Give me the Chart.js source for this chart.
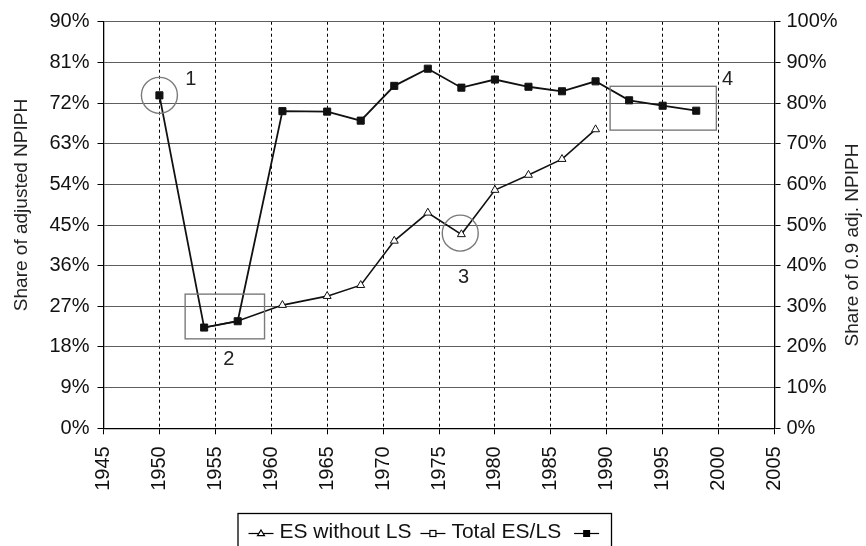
<!DOCTYPE html>
<html>
<head>
<meta charset="utf-8">
<script src="https://cdn.jsdelivr.net/npm/chart.js@4.4.1/dist/chart.umd.min.js"></script>
<style>
  html, body { margin: 0; padding: 0; background: #fff; }
  #wrap { position: relative; width: 866px; height: 546px; }
</style>
</head>
<body>
<div id="wrap"><canvas id="chart"></canvas></div>
<script>
// Data
const xTicks = [1945, 1950, 1955, 1960, 1965, 1970, 1975, 1980, 1985, 1990, 1995, 2000, 2005];

// ES without LS (right axis, share of 0.9 adj. NPIPH)
const esYears = [1954, 1957, 1961, 1965, 1968, 1971, 1974, 1977, 1980, 1983, 1986, 1989];
const esValues = [24.8, 26.4, 30.3, 32.5, 35.2, 46.1, 53.0, 47.7, 58.6, 62.3, 66.2, 73.5];

// Total ES/LS (left axis, share of adjusted NPIPH)
const totalYears = [1950, 1954, 1957, 1961, 1965, 1968, 1971, 1974, 1977, 1980, 1983, 1986, 1989, 1992, 1995, 1998];
const totalValues = [73.7, 22.3, 23.7, 70.2, 70.1, 68.1, 75.8, 79.6, 75.4, 77.2, 75.6, 74.6, 76.8, 72.6, 71.4, 70.3];

const legendLabels = ['ES without LS', 'Total ES/LS', ''];

// Annotation marks, in data units of the left axis
const circleNotes = [
    { x: 1950, y: 73.7 },
    { x: 1976.9, y: 43.2 }
];
const boxNotes = [
    { x1: 1952.3, x2: 1959.4, y1: 19.8, y2: 29.7 },
    { x1: 1990.3, x2: 1999.8, y1: 66.0, y2: 75.7 }
];
const numberNotes = [
    { text: '1', x: 1952.8, y: 77.1 },
    { text: '2', x: 1956.2, y: 15.3 },
    { text: '3', x: 1977.2, y: 33.3 },
    { text: '4', x: 2000.8, y: 77.1 }
];

const FONT = '"Liberation Sans", Arial, Helvetica, sans-serif';

function toPoints(xs, ys) {
    return xs.map((x, i) => ({ x: x, y: ys[i] }));
}

// Annotations, axis titles and the boxed legend
const extrasPlugin = {
    id: 'extras',
    afterDraw(chart) {
        const ctx = chart.ctx;
        const sx = chart.scales.x;
        const sy = chart.scales.y;

        ctx.save();
        ctx.strokeStyle = '#7a7a7a';
        ctx.lineWidth = 1.4;
        circleNotes.forEach(c => {
            ctx.beginPath();
            ctx.arc(sx.getPixelForValue(c.x), sy.getPixelForValue(c.y), 18, 0, Math.PI * 2);
            ctx.stroke();
        });
        boxNotes.forEach(b => {
            const x1 = sx.getPixelForValue(b.x1), x2 = sx.getPixelForValue(b.x2);
            const y1 = sy.getPixelForValue(b.y1), y2 = sy.getPixelForValue(b.y2);
            ctx.strokeRect(x1, y2, x2 - x1, y1 - y2);
        });

        ctx.fillStyle = '#222';
        ctx.font = '20px ' + FONT;
        ctx.textAlign = 'center';
        ctx.textBaseline = 'middle';
        numberNotes.forEach(n => {
            ctx.fillText(n.text, sx.getPixelForValue(n.x), sy.getPixelForValue(n.y));
        });

        // axis titles, both reading bottom to top
        ctx.font = '19px ' + FONT;
        ctx.save();
        ctx.translate(22, 205);
        ctx.rotate(-Math.PI / 2);
        ctx.fillText('Share of adjusted NPIPH', 0, 0);
        ctx.restore();
        ctx.save();
        ctx.translate(853, 245);
        ctx.rotate(-Math.PI / 2);
        ctx.fillText('Share of 0.9 adj. NPIPH', 0, 0);
        ctx.restore();

        // legend box
        ctx.strokeStyle = '#000';
        ctx.lineWidth = 1.3;
        ctx.strokeRect(238, 513.5, 373.5, 60);

        ctx.font = '21px ' + FONT;
        ctx.textAlign = 'left';
        ctx.fillStyle = '#111';
        const ly = 533.5;
        let lx = 248.5;
        legendLabels.forEach((label, i) => {
            const len = 25;
            ctx.strokeStyle = '#000';
            ctx.lineWidth = 1.2;
            ctx.beginPath();
            ctx.moveTo(lx, ly);
            ctx.lineTo(lx + len, ly);
            ctx.stroke();
            const mx = lx + len / 2;
            if (i === 0) {
                ctx.fillStyle = '#fff';
                ctx.beginPath();
                ctx.moveTo(mx, ly - 3.5);
                ctx.lineTo(mx + 3.5, ly + 2.2);
                ctx.lineTo(mx - 3.5, ly + 2.2);
                ctx.closePath();
                ctx.fill();
                ctx.stroke();
            } else if (i === 1) {
                ctx.fillStyle = '#fff';
                ctx.fillRect(mx - 3, ly - 3, 6, 6);
                ctx.strokeRect(mx - 3, ly - 3, 6, 6);
            } else {
                ctx.fillStyle = '#000';
                ctx.fillRect(mx - 3.5, ly - 3.5, 7, 7);
            }
            ctx.fillStyle = '#111';
            ctx.fillText(label, lx + len + 6, ly - 1);
            lx += len + 6 + ctx.measureText(label).width + (label ? 9 : 0);
            if (i === 1) lx += 4;
        });
        ctx.restore();
    }
};

new Chart(document.getElementById('chart'), {
    type: 'line',
    data: {
        datasets: [{
            label: legendLabels[1],
            data: toPoints(totalYears, totalValues),
            borderColor: '#111',
            borderWidth: 1.8,
            pointStyle: 'rect',
            pointRadius: 5,
            pointBackgroundColor: '#111',
            pointBorderColor: '#111',
            pointBorderWidth: 1,
            tension: 0,
            yAxisID: 'y',
            order: 0
        }, {
            label: legendLabels[0],
            data: toPoints(esYears, esValues),
            borderColor: '#111',
            borderWidth: 1.6,
            pointStyle: 'triangle',
            pointRadius: ctx => ctx.dataIndex < 2 ? 0 : 4.6,
            pointBackgroundColor: '#fff',
            pointBorderColor: '#111',
            pointBorderWidth: 1,
            tension: 0,
            yAxisID: 'y1',
            order: 1
        }]
    },
    options: {
        responsive: true,
        maintainAspectRatio: false,
        animation: false,
        layout: { padding: { top: 21.7, right: 0, bottom: 0, left: 0 } },
        plugins: {
            legend: { display: false },
            tooltip: { enabled: false }
        },
        scales: {
            x: {
                type: 'linear',
                min: 1945,
                max: 2005,
                afterFit: scale => { scale.height = 117.7; },
                afterBuildTicks: scale => { scale.ticks = xTicks.map(v => ({ value: v })); },
                grid: {
                    color: '#000',
                    lineWidth: 1,
                    tickLength: 6,
                    tickColor: '#000'
                },
                border: { display: true, color: '#000', width: 1.3, dash: [3, 3] },
                ticks: {
                    autoSkip: false,
                    minRotation: 90,
                    maxRotation: 90,
                    padding: 12,
                    color: '#111',
                    font: { family: FONT, size: 20 },
                    callback: v => String(v)
                }
            },
            y: {
                position: 'left',
                min: 0,
                max: 90,
                afterFit: scale => { scale.width = 103.5; },
                grid: {
                    color: '#5e5e5e',
                    lineWidth: 1,
                    tickLength: 6,
                    tickColor: '#000'
                },
                border: { display: true, color: '#000', width: 1.3 },
                ticks: {
                    stepSize: 9,
                    padding: 8,
                    color: '#111',
                    font: { family: FONT, size: 20 },
                    callback: v => v + '%'
                }
            },
            y1: {
                position: 'right',
                min: 0,
                max: 100,
                afterFit: scale => { scale.width = 91.5; },
                grid: {
                    drawOnChartArea: false,
                    tickLength: 6,
                    tickColor: '#000'
                },
                border: { display: true, color: '#000', width: 1.3 },
                ticks: {
                    stepSize: 10,
                    padding: 6,
                    color: '#111',
                    font: { family: FONT, size: 20 },
                    callback: v => v + '%'
                }
            }
        }
    },
    plugins: [extrasPlugin]
});
</script>
</body>
</html>
